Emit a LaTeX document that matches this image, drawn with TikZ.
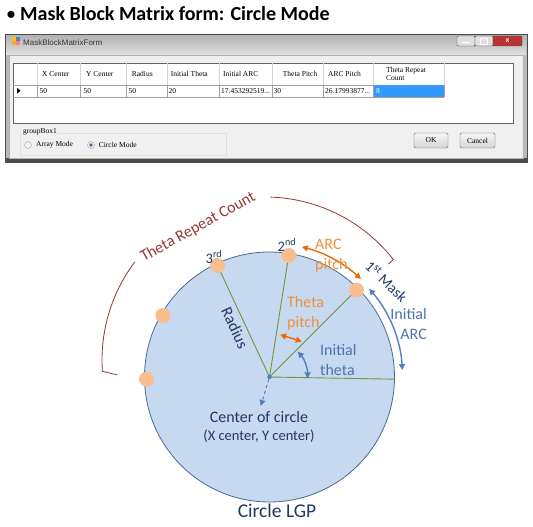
\documentclass[tikz,border=0pt]{standalone}
\usepackage{fontspec}
\setmainfont{Carlito}
\newfontfamily\dlgfont{Liberation Serif}
\newfontfamily\uifont{Liberation Sans}
\usetikzlibrary{arrows.meta}
\definecolor{cfill}{HTML}{C6D9F1}
\definecolor{cline}{HTML}{4A6990}
\definecolor{dotc}{HTML}{F9BE8E}
\definecolor{gline}{HTML}{77933C}
\definecolor{navy}{HTML}{1F3864}
\definecolor{bluec}{HTML}{4F81BD}
\definecolor{bluetx}{HTML}{4A76B0}
\definecolor{orangec}{HTML}{E46C0A}
\definecolor{orangetx}{HTML}{F0913A}
\definecolor{dred}{HTML}{953735}
\definecolor{selblue}{HTML}{3399FF}
\definecolor{gridc}{HTML}{A0A0A0}
\definecolor{hdrsep}{HTML}{D5D5D5}
\definecolor{formbg}{HTML}{F0F0F0}
\begin{document}
\begin{tikzpicture}[x=1pt,y=1pt,
  lbl/.style={inner sep=0pt, font=\fontsize{16}{20}\selectfont, align=left},
  dlg/.style={inner sep=0pt, anchor=west, font=\dlgfont\fontsize{7.5}{8.5}\selectfont},
  mdot/.style={circle, fill=dotc, inner sep=0pt, minimum size=15pt},
  arr/.style={line width=1.4pt, {Triangle[length=6pt,width=6pt]}-{Triangle[length=6pt,width=6pt]}},
  grn/.style={draw=gline, line width=0.9pt},
  btn/.style={draw=gray!80!black, rounded corners=1.5pt, top color=white!96!black, bottom color=white!84!black, inner sep=0pt, font=\dlgfont\fontsize{7.5}{8.5}\selectfont},
  ctl/.style={draw=gray!60!black, rounded corners=1pt, inner sep=0pt, minimum height=10pt},
]
\useasboundingbox (0,0) rectangle (533,527);
% ---------- title ----------
\node[anchor=west, inner sep=0pt, font=\bfseries\fontsize{20}{22}\selectfont] (title) at (6,513) {{\mdseries •}\hspace{4pt}Mask Block Matrix form: Circle Mode};
% ---------- window ----------
\fill[gray!55] (5,365) rectangle (527,493);
\shade[top color=gray!60, bottom color=gray!25] (6,472) rectangle (526,492);
\fill[formbg] (9,369) rectangle (523,472);
\draw[black!70, line width=0.8pt] (5,365) rectangle (527,493);
\fill[black!70] (5,365) rectangle (527,368.5);
\draw[gray!60] (9,369) rectangle (523,472);
\fill[orange!70] (12,482) rectangle (16,486); \fill[bluec] (16,486) rectangle (20,490);
\fill[yellow!60!orange] (12,486) rectangle (16,490); \fill[red!50] (16,482) rectangle (20,486);
\node[anchor=west, inner sep=0pt, font=\uifont\fontsize{8}{9}\selectfont, text=black!80] (wtitle) at (23,484) {MaskBlockMatrixForm};
\node[ctl, fill=gray!25, minimum width=18pt] (minb) at (466,486) {};
\node[ctl, fill=gray!25, minimum width=18pt] (maxb) at (484,486) {};
\node[ctl, fill=red!65!black!80, minimum width=29pt, text=white, font=\uifont\bfseries\fontsize{7}{7}\selectfont] (closeb) at (507.5,486) {x};
\draw[white, line width=1pt] (462,484) -- (470,484);
\draw[white, line width=0.8pt] (480.5,483) rectangle (487.5,489);
% table
\draw[fill=white, draw=gray!80!black] (13,404) rectangle (513,464);
\foreach \x in {37,80,126,167,219,272,323,373,444} \draw[hdrsep] (\x,442) -- (\x,464);
\foreach \x in {37,80,126,167,219,272,323,373,444} \draw[gridc] (\x,429.5) -- (\x,442);
\draw[gridc] (13,442) -- (444,442);
\draw[gridc] (13,429.5) -- (444,429.5);
\foreach \x/\t in {42/X Center, 86/Y Center, 131.7/Radius, 170.7/Initial Theta, 223/Initial ARC, 282.7/Theta Pitch, 328/ARC Pitch}
  \node[dlg] at (\x,453) {\t};
\node[dlg, align=left, font=\dlgfont\fontsize{7.5}{8}\selectfont] (trch) at (386,453) {Theta Repeat\\Count};
\foreach \x/\t in {39.3/50, 83.3/50, 128.3/50, 168.3/20, 273.3/30}
  \node[dlg] at (\x,436.3) {\t};
\node[dlg] (iarc) at (221,436.3) {17.453292519...};
\node[dlg] (apv) at (325,436.3) {26.17993877...};
\fill[selblue] (374,430.3) rectangle (444,442);
\node[dlg, text=white] (sel) at (376,436.3) {8};
\fill[black] (17,433.3) -- (20.5,436.3) -- (17,439.3) -- cycle;
% group box
\draw[gray!25] (20,372) rectangle (226,394);
\node[dlg, fill=formbg, inner xsep=1pt] (gb) at (22,395.3) {groupBox1};
\draw[gray!70, fill=gray!10] (28,382) circle (3.5);
\draw[gray!70, fill=gray!10] (91,382) circle (3.5);
\fill[bluec!80!black] (91,382) circle (1.8);
\node[dlg] (am) at (36,382) {Array Mode};
\node[dlg] (cm) at (98.7,382) {Circle Mode};
\node[btn, minimum width=34pt, minimum height=15pt] (ok) at (431,386.5) {OK};
\node[btn, minimum width=35pt, minimum height=15pt] (cancel) at (477.5,386.5) {Cancel};
% ---------- diagram ----------
\begin{scope}[shift={(269.5,150)}]
  \fill[cfill] (0,0) circle (125);
  \draw[cline, line width=0.8pt] (0,0) circle (125);
  \coordinate (p1) at (45:123);
  \coordinate (p2) at (81:123);
  \coordinate (p3) at (115:123);
  \coordinate (p4) at (150:123);
  \coordinate (p5) at (181:123);
  \coordinate (pe) at (-1:125);
  \coordinate (C) at (0,0);
  \draw[grn] (C) -- (p1);
  \draw[grn] (C) -- (p2);
  \draw[grn] (C) -- (p3);
  \draw[grn] (C) -- (pe);
  \node[mdot] (d1) at (p1) {};
  \node[mdot] (d2) at (p2) {};
  \node[mdot] (d3) at (p3) {};
  \node[mdot] (d4) at (p4) {};
  \node[mdot] (d5) at (p5) {};
  \node[circle, fill=bluec, inner sep=0pt, minimum size=4.5pt] (cdot) at (C) {};
  \coordinate (dc) at (-8.8,-29);
  \draw[bluec, dashed, line width=1pt, -{Triangle[length=6pt,width=6pt]}] (cdot) -- (dc);
  \draw[bluec, arr] (42:38) arc[start angle=42, end angle=-2, radius=38];
  \draw[orangec, arr] (76:134) arc[start angle=76, end angle=47, radius=134];
  \draw[bluec, arr] (41.5:133) arc[start angle=41.5, end angle=3, radius=133];
  \coordinate (tpa) at (75.8:43.6);
  \coordinate (tpb) at (47.7:48);
  \draw[orangec, arr] (tpa) -- (tpb);
\end{scope}
\begin{scope}[shift={(265,167)}]
  \draw[dred, line width=0.8pt] (184:163) ++(15,-3.5) -- (184:163) arc[start angle=184, end angle=143, radius=163];
  \draw[dred, line width=0.8pt] (88:163) arc[start angle=88, end angle=38, radius=163] -- ++(-5,-4.4);
\end{scope}
% labels
\node[lbl, text=dred, rotate=29] (trc) at (198,300) {Theta Repeat Count};
\node[lbl, text=navy, rotate=-65] (rad) at (235,199) {Radius};
\node[lbl, text=orangetx, anchor=west] (tp) at (287,214) {Theta\\pitch};
\node[lbl, text=bluetx, anchor=west] (it) at (320,167) {Initial\\theta};
\node[lbl, text=orangetx, anchor=west] (ap) at (315,271) {ARC\\pitch};
\node[lbl, text=bluetx, anchor=east, align=right] (ia) at (427,203) {Initial\\ARC};
\node[lbl, text=navy, rotate=-44, font=\fontsize{15}{18}\selectfont] (m1) at (386.7,246) {1\textsuperscript{st} Mask};
\node[lbl, text=navy, font=\fontsize{14.5}{18}\selectfont] (n2) at (287,282) {2\textsuperscript{nd}};
\node[lbl, text=navy, font=\fontsize{14.5}{18}\selectfont] (n3) at (214,270) {3\textsuperscript{rd}};
\node[lbl, text=navy, align=center] (cc) at (259,110) {Center of circle};
\node[lbl, text=navy, align=center, font=\fontsize{14.5}{16}\selectfont] (xy) at (259,91) {(X center, Y center)};
\node[lbl, text=navy, align=center, font=\fontsize{19.5}{22}\selectfont] (lgp) at (277,16) {Circle LGP};
\end{tikzpicture}
\end{document}
